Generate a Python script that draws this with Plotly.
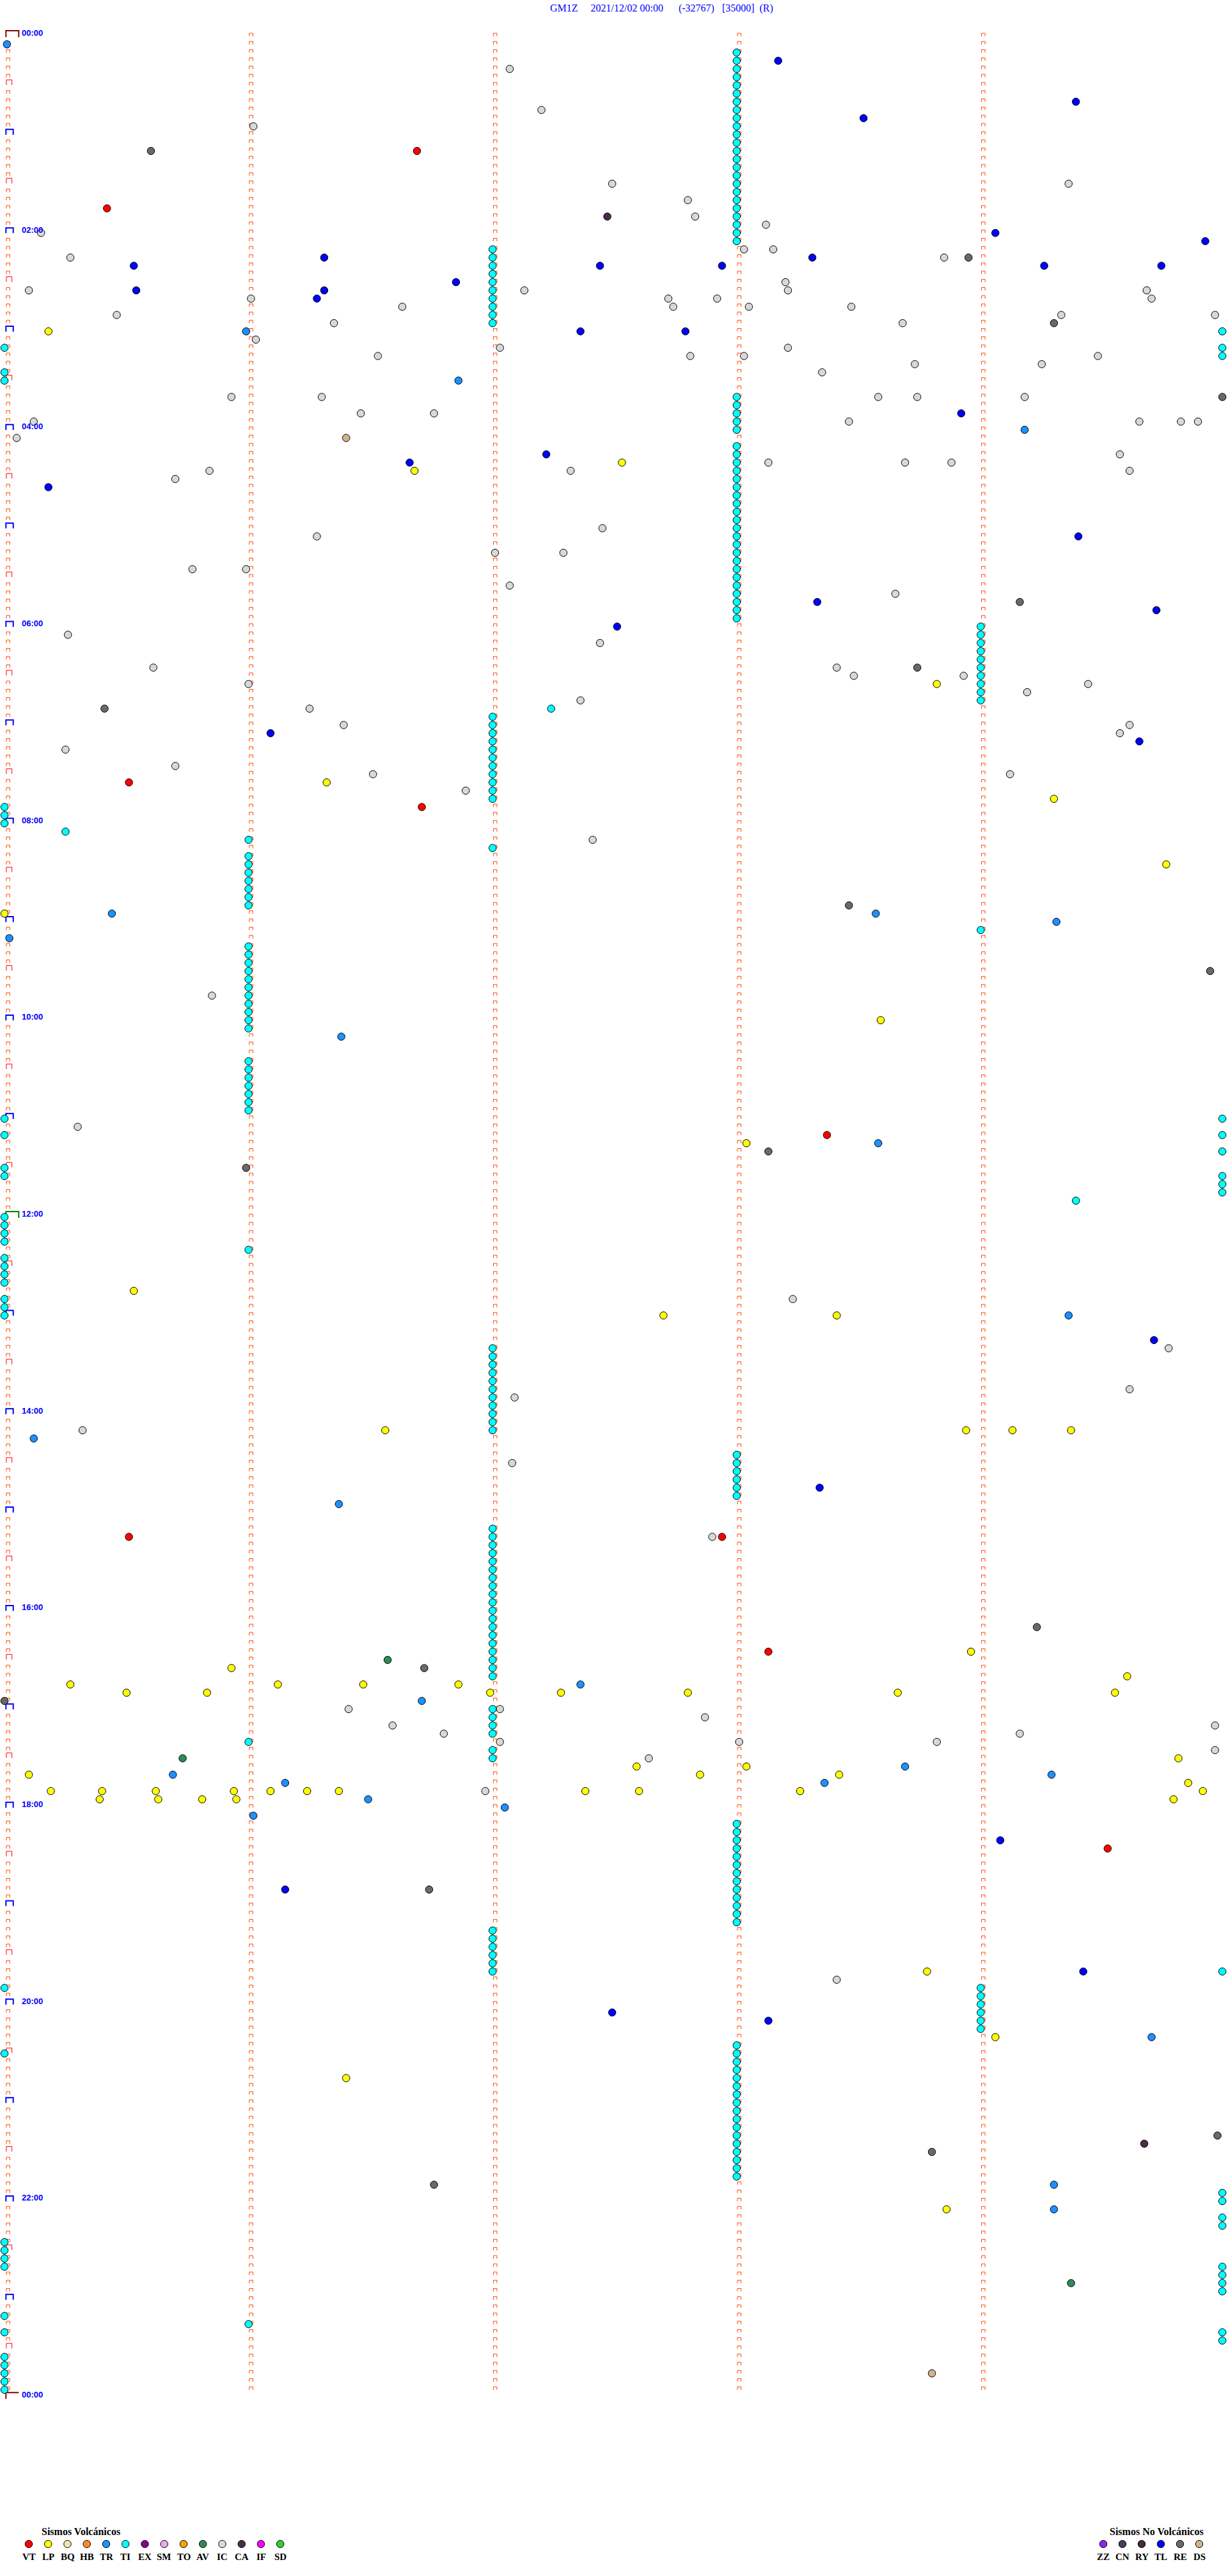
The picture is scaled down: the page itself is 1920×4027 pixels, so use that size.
import plotly.graph_objects as go

# ---------------- data ----------------
TITLE_PARTS = ["GM1Z", "2021/12/02 00:00", "(-32767)", "[35000]", "(R)"]
HOUR_LABELS = ["00:00", "02:00", "04:00", "06:00", "08:00", "10:00", "12:00",
               "14:00", "16:00", "18:00", "20:00", "22:00", "00:00"]
VOLC_CODES = ["VT", "LP", "BQ", "HB", "TR", "TI", "EX", "SM", "TO", "AV", "IC", "CA", "IF", "SD"]
NOVOLC_CODES = ["ZZ", "CN", "RY", "TL", "RE", "DS"]
VOLC_TITLE = "Sismos Volcánicos"
NOVOLC_TITLE = "Sismos No Volcánicos"

# event times, minutes after 00:00 (helicorder: 5 minutes per line)
VT = [71.69, 105.42, 455.51, 471.71, 673.37, 915.51, 917.94, 988.13, 1109.52]
LP = [180.18, 262.53, 266.68, 398.82, 456.32, 469.30, 509.76, 535.0, 603.59, 678.04,
      765.53, 782.70, 783.41, 851.56, 853.94, 854.13, 854.37, 988.96, 995.93, 1004.60,
      1005.27, 1006.12, 1006.47, 1006.86,
      1010.50, 1010.83, 1011.99, 1012.28, 1012.80, 1013.66, 1014.55,
      1054.81, 1057.59, 1058.04, 1060.10, 1062.85, 1063.42, 1069.85,
      1070.19, 1070.40, 1070.62, 1070.94, 1071.09, 1071.24, 1071.37, 1072.38, 1072.60,
      1073.26, 1074.91, 1075.39, 1075.63, 1075.81, 1075.95, 1079.79,
      1183.78, 1224.06, 1246.40, 1328.86]
BQ = []
HB = []
TR = [5.01, 180.99, 211.86, 244.18, 535.44, 538.57, 544.31, 550.02, 611.38, 678.58,
      784.36, 855.12, 896.37, 1007.36, 1016.71, 1058.69, 1060.69, 1064.29, 1066.15,
      1068.36, 1076.49, 1082.05, 1086.02, 1224.70, 1314.30, 1329.30]
TI = [13, 18, 23, 28, 33, 38, 43, 48, 53, 58, 63, 68, 73, 78, 83, 88, 93, 98, 103, 108,
      113, 118, 123, 128,
      132, 137, 142, 147, 152, 157, 162, 167, 172, 177,
      184.99, 190, 194.99, 199.99, 205, 210,
      223, 228, 233, 238, 243,
      253, 258, 263, 268, 273, 278, 283, 288, 293, 298, 303, 308, 313, 318, 323, 328,
      333, 338, 343, 348, 353, 358,
      364, 369, 374, 379, 384, 389, 394, 399, 404, 409,
      412.24,
      417, 422, 427, 432, 437, 442, 447, 452, 457, 462, 467,
      470, 475, 480, 485.25, 491, 497,
      501, 506, 511, 516, 521, 526, 531,
      549,
      556, 561, 566, 571, 576, 581, 586, 591, 596, 601, 606,
      626, 631, 636, 641, 646, 651, 656,
      660, 664.99, 670, 674.99, 684.99, 690, 695, 699.99, 704.99, 709.99, 714.39,
      720, 725, 730, 735, 741, 745, 750, 755, 760, 770, 775, 780,
      802, 807, 812, 817, 822, 827, 832, 837, 842, 847, 852,
      868, 873, 878, 883, 888, 893,
      912, 917, 922, 927, 932, 937, 942, 947, 952, 957, 962, 967, 972, 977, 982, 987,
      992, 997, 1002,
      1022, 1027, 1032, 1037, 1041, 1047, 1052,
      1093, 1098, 1103, 1108, 1113, 1118, 1123, 1128, 1133, 1138, 1143, 1148, 1153,
      1157, 1162, 1167, 1172, 1177, 1182, 1184.99,
      1190, 1194, 1199, 1204, 1209, 1214, 1219,
      1228, 1230, 1233, 1238, 1243, 1248, 1253, 1258, 1263, 1268, 1273, 1278, 1283,
      1288, 1293, 1298, 1303, 1308,
      1319.99, 1324.99, 1334.99, 1339.99, 1345, 1350, 1355, 1360, 1364.99, 1369.99,
      1374.99, 1379.99,
      1390, 1396, 1400, 1404.99, 1409.99, 1415, 1420, 1425, 1430, 1435]
EX = []
SM = []
TO = []
AV = [991.57, 1050.73, 1374.37]
IC = [22.07, 47.20, 56.02, 92.49, 94.36, 102.80, 112.83, 118.12, 120.15, 133.03, 133.15,
      135.27, 138.85, 153.20, 155.10, 157.13, 158.21, 159.68, 161.01, 162.72, 162.92,
      164.70, 166.63, 167.74, 168.05, 168.47, 170.46, 174.33, 174.96, 176.35, 178.68,
      186.03, 192.03, 193.21, 196.53, 197.81, 198.03, 199.48, 203.73, 204.25, 208.35,
      220.93, 221.30, 223.58, 223.74, 224.18, 231.46, 231.76, 235.12, 238.46, 239.65,
      239.82, 239.89, 245.05, 259.57, 263.13, 263.69, 263.88, 265.84, 267.32, 269.61,
      270.70,
      302.45, 306.28, 317.01, 317.29, 325.77, 325.99, 337.07, 343.65, 365.26, 372.44,
      385.61, 388.41, 393.48, 393.93, 396.0, 399.44, 404.19, 407.36, 411.25, 421.39,
      424.61, 429.57, 435.25, 445.70, 451.51, 454.12, 461.89, 492.41,
      585.85, 665.30, 773.23, 804.77, 829.61, 832.09, 850.32, 872.08,
      917.90, 1021.41, 1022.03, 1027.87, 1031.59, 1034.96, 1036.80, 1039.16, 1042.03,
      1043.01, 1043.82, 1049.96, 1052.64, 1071.97, 1188.41]
CA = [112.47, 1289.67]
IF = []
SD = []
ZZ = []
CN = []
RY = []
TL = [18.17, 44.39, 53.52, 124.06, 129.92, 136.31, 138.31, 140.53, 142.44, 142.94, 144.26,
      144.74, 151.85, 155.54, 156.31, 161.28, 182.36, 182.79, 233.92, 257.22, 261.66,
      275.18, 309.40, 348.33, 354.72, 362.51, 426.09, 434.65, 799.71, 888.34, 1104.08,
      1131.15, 1184.42, 1207.49, 1213.13]
RE = [70.60, 138.95, 179.30, 224.99, 349.16, 388.74, 410.41, 533.46, 574.94, 683.13,
      690.99, 974.23, 996.72, 1015.0, 1131.74, 1284.97, 1293.80, 1311.76]
DS = [246.40, 1428.80]

EVENTS = {"VT": VT, "LP": LP, "BQ": BQ, "HB": HB, "TR": TR, "TI": TI, "EX": EX, "SM": SM,
          "TO": TO, "AV": AV, "IC": IC, "CA": CA, "IF": IF, "SD": SD,
          "ZZ": ZZ, "CN": CN, "RY": RY, "TL": TL, "RE": RE, "DS": DS}

MIN_PER_ROW = 5
N_ROWS = 288
N_COLS = 5

# ---------------- style ----------------
COLORS = {"VT": "#FF0000", "LP": "#FFFF00", "BQ": "#EEE8AA", "HB": "#FF8C1A",
          "TR": "#1E90FF", "TI": "#00FFFF", "EX": "#8B008B", "SM": "#EEA8E8",
          "TO": "#FFA500", "AV": "#2E8B57", "IC": "#D8D8D8", "CA": "#4B2D4B",
          "IF": "#FF00FF", "SD": "#32CD32", "ZZ": "#8A2BE2", "CN": "#483D5B",
          "RY": "#4A2840", "TL": "#0000FF", "RE": "#696969", "DS": "#D2B48C"}
DRAW_ORDER = ["IC", "RE", "DS", "CA", "AV", "TL", "TR", "VT", "LP", "TI",
              "BQ", "HB", "EX", "SM", "TO", "IF", "SD", "ZZ", "CN", "RY"]

W, H = 1920, 4027
PX_PER_MIN = 381.6
X0_PX = 7.0
ROW_PX = 12.82
Y0_PX = 52.0
MARK_DY = 4.5 / ROW_PX


def xd(px):
    return (px - X0_PX) / PX_PER_MIN


def yd(px):
    return (px - Y0_PX) / ROW_PX


fig = go.Figure()

# ---- helicorder brackets ----
def add_bracket(xs, ys, cx, top, w, h, left_only=False):
    if left_only:
        xs += [cx - w / 2, cx - w / 2, cx + w / 2, None]
        ys += [top + h, top, top, None]
    else:
        xs += [cx - w / 2, cx - w / 2, cx + w / 2, cx + w / 2, None]
        ys += [top + h, top, top, top + h, None]

groups = {"reg": ([], []), "half": ([], []), "hour": ([], []), "day": ([], []), "noon": ([], [])}
dx = 1.0 / PX_PER_MIN
dy = 1.0 / ROW_PX
for k in range(N_ROWS + 1):
    for c in range(N_COLS):
        if k == N_ROWS and c > 0:
            continue
        if c == 0:
            if k % (N_ROWS // 2) == 0:
                g = "noon" if k == N_ROWS // 2 else "day"
                add_bracket(*groups[g], c + 12.3 * dx, k - 4 * dy, 20 * dx, 10 * dy,
                            left_only=(k == N_ROWS))
            elif k % 12 == 0:
                add_bracket(*groups["hour"], c + 8.0 * dx, k - 3.5 * dy, 11.4 * dx, 8.4 * dy)
            elif k % 6 == 0:
                add_bracket(*groups["half"], c + 7.3 * dx, k - 4 * dy, 8.7 * dx, 8 * dy)
            else:
                add_bracket(*groups["reg"], c + 5.6 * dx, k, 5.3 * dx, 4.7 * dy)
        else:
            add_bracket(*groups["reg"], c + 4.0 * dx, k, 5.6 * dx, 4.7 * dy)

styles = {"reg": ("#FF4500", 1), "half": ("#FF0000", 1), "hour": ("#0000FF", 2),
          "day": ("#8B0000", 2), "noon": ("#008000", 2)}
for g, (xs, ys) in groups.items():
    col, lw = styles[g]
    fig.add_trace(go.Scatter(x=xs, y=ys, mode="lines", line=dict(color=col, width=lw),
                             hoverinfo="skip", showlegend=False))

# ---- events ----
for code in DRAW_ORDER:
    times = EVENTS[code]
    if not times:
        continue
    xs, ys = [], []
    for t in times:
        k = int((t + 1e-9) // MIN_PER_ROW)
        xs.append(t - k * MIN_PER_ROW)
        ys.append(k + MARK_DY)
    fig.add_trace(go.Scatter(x=xs, y=ys, mode="markers", cliponaxis=False,
                             marker=dict(size=11.5, color=COLORS[code],
                                         line=dict(color="#000000", width=1)),
                             name=code, showlegend=False))

# ---- hour labels ----
annotations = []
for i, lab in enumerate(HOUR_LABELS):
    k = i * 24
    annotations.append(dict(x=xd(31.5), y=k - 0.5 * dy, xref="x", yref="y", text=lab,
                            showarrow=False, xanchor="left", yanchor="middle",
                            font=dict(family="Liberation Sans", size=13, color="#0000FF",
                                      weight="bold")))

# ---- title ----
NB = "\u00a0"
title_text = (TITLE_PARTS[0] + NB * 5 + TITLE_PARTS[1] + NB * 6 + TITLE_PARTS[2] + NB * 3 +
              TITLE_PARTS[3] + NB * 2 + TITLE_PARTS[4])
annotations.append(dict(x=858, y=13, xref="x2", yref="y2", text=title_text, showarrow=False,
                        xanchor="left", yanchor="middle",
                        font=dict(family="Liberation Serif", size=16, color="#0000FF")))

# ---- legends (pixel overlay axes) ----
LEG_MARK_Y = 3977
LEG_LABEL_Y = 3997
LEG_TITLE_Y = 3957
vx = [45 + 30.25 * i for i in range(len(VOLC_CODES))]
nx = [1725 + 30 * i for i in range(len(NOVOLC_CODES))]
fig.add_trace(go.Scatter(x=vx, y=[LEG_MARK_Y] * len(vx), xaxis="x2", yaxis="y2",
                         mode="markers", cliponaxis=False, showlegend=False, hoverinfo="skip",
                         marker=dict(size=11.5, color=[COLORS[c] for c in VOLC_CODES],
                                     line=dict(color="#000000", width=1))))
fig.add_trace(go.Scatter(x=nx, y=[LEG_MARK_Y] * len(nx), xaxis="x2", yaxis="y2",
                         mode="markers", cliponaxis=False, showlegend=False, hoverinfo="skip",
                         marker=dict(size=11.5, color=[COLORS[c] for c in NOVOLC_CODES],
                                     line=dict(color="#000000", width=1))))
for x, c in list(zip(vx, VOLC_CODES)) + list(zip(nx, NOVOLC_CODES)):
    annotations.append(dict(x=x, y=LEG_LABEL_Y, xref="x2", yref="y2", text=c, showarrow=False,
                            xanchor="center", yanchor="middle",
                            font=dict(family="Liberation Serif", size=15, color="#000000",
                                      weight="bold")))
annotations.append(dict(x=63, y=LEG_TITLE_Y, xref="x2", yref="y2", text=VOLC_TITLE,
                        showarrow=False, xanchor="left", yanchor="middle",
                        font=dict(family="Liberation Serif", size=16, color="#000000",
                                  weight="bold")))
annotations.append(dict(x=1733, y=LEG_TITLE_Y, xref="x2", yref="y2", text=NOVOLC_TITLE,
                        showarrow=False, xanchor="left", yanchor="middle",
                        font=dict(family="Liberation Serif", size=16, color="#000000",
                                  weight="bold")))

fig.update_layout(
    width=W, height=H, autosize=False,
    margin=dict(l=0, r=0, t=0, b=0, pad=0),
    paper_bgcolor="#FFFFFF", plot_bgcolor="#FFFFFF",
    showlegend=False, hovermode=False,
    xaxis=dict(range=[xd(0), xd(W)], visible=False, fixedrange=True),
    yaxis=dict(range=[yd(H), yd(0)], visible=False, fixedrange=True),
    xaxis2=dict(range=[0, W], visible=False, overlaying="x", anchor="y2", fixedrange=True),
    yaxis2=dict(range=[H, 0], visible=False, overlaying="y", anchor="x2", fixedrange=True),
    annotations=annotations,
)

fig.write_html("out.html", config={"displayModeBar": False},
               post_script="document.body.style.margin='0px';document.body.style.padding='0px';")
